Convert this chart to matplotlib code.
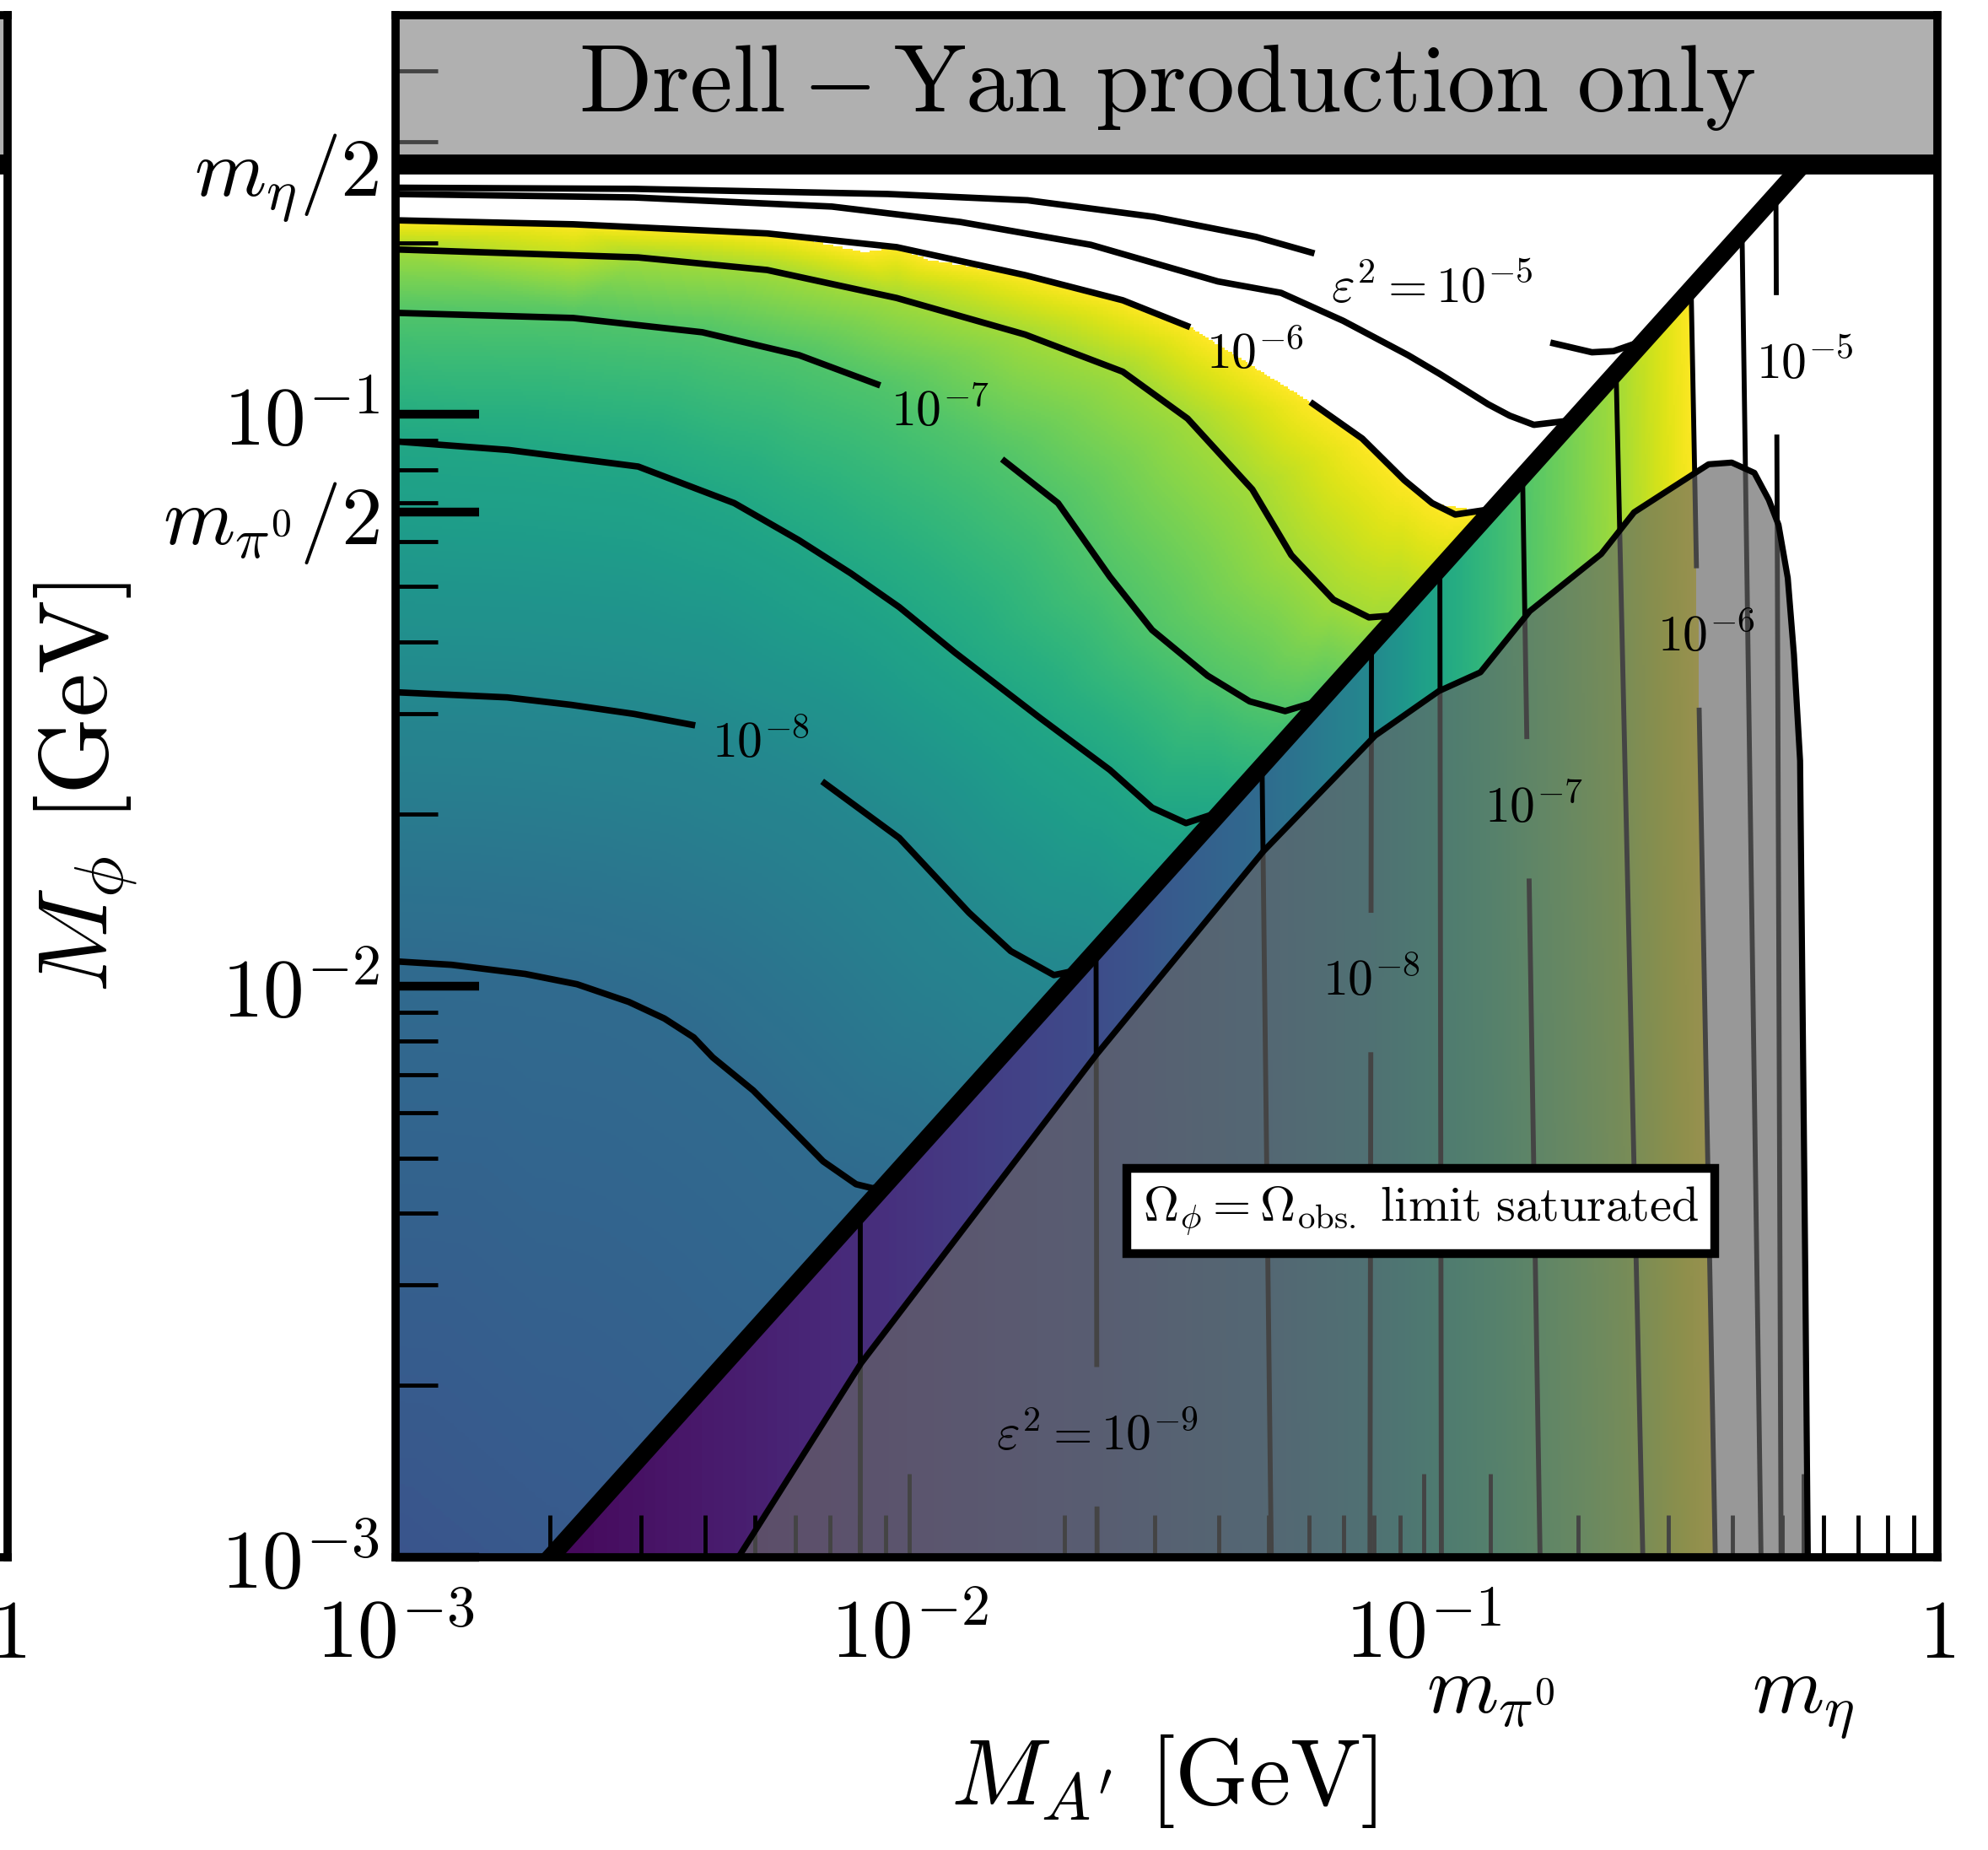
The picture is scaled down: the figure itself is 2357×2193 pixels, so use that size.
import numpy as np
import matplotlib
matplotlib.use('Agg')
import matplotlib.pyplot as plt
import matplotlib.tri as mtri
from matplotlib import colors, ticker
from matplotlib.transforms import blended_transform_factory

plt.rcParams['mathtext.fontset'] = 'cm'
plt.rcParams['axes.formatter.use_mathtext'] = True

# meson masses [GeV]
m_pi0 = 0.135
m_eta = 0.548
log2 = np.log10(2.0)

# eps^2 contours in the M_phi > M_A'/2 region, as (log10 M_A', log10 M_phi)
up85_A = [-3.000, -2.891, -2.748, -2.647, -2.546, -2.477, -2.420, -2.383, -2.304, -2.240, -2.168, -2.104, -2.072, -2.050]
up85_P = [-1.957, -1.963, -1.979, -1.997, -2.028, -2.057, -2.090, -2.125, -2.183, -2.241, -2.307, -2.347, -2.354, -2.350]

up80a_A = [-3.000, -2.783, -2.659, -2.536, -2.417]
up80a_P = [-1.486, -1.495, -1.508, -1.524, -1.544]
up80b_A = [-2.170, -2.020, -1.884, -1.803, -1.719, -1.671]
up80b_P = [-1.642, -1.741, -1.872, -1.939, -1.981, -1.972]

up75_A = [-3.000, -2.780, -2.528, -2.341, -2.215, -2.114, -2.020, -1.911, -1.746, -1.610, -1.528, -1.462, -1.394]
up75_P = [-1.047, -1.062, -1.091, -1.155, -1.220, -1.278, -1.337, -1.417, -1.531, -1.622, -1.688, -1.715, -1.695]

up70a_A = [-3.000, -2.654, -2.403, -2.215, -2.057]
up70a_P = [-0.822, -0.831, -0.856, -0.896, -0.949]
up70b_A = [-1.820, -1.711, -1.610, -1.528, -1.420, -1.338, -1.269, -1.199]
up70b_P = [-1.078, -1.155, -1.284, -1.377, -1.457, -1.502, -1.519, -1.500]

up65_A = [-3.000, -2.528, -2.277, -2.025, -1.775, -1.585, -1.459, -1.333, -1.257, -1.175, -1.106, -1.050]
up65_P = [-0.711, -0.725, -0.747, -0.796, -0.860, -0.925, -1.007, -1.131, -1.246, -1.324, -1.355, -1.351]

up60a_A = [-3.000, -2.654, -2.277, -2.025, -1.775, -1.585, -1.454]
up60a_P = [-0.660, -0.667, -0.683, -0.707, -0.756, -0.800, -0.847]
up60b_A = [-1.220, -1.119, -1.037, -0.983, -0.938, -0.894, -0.864]
up60b_P = [-0.978, -1.042, -1.115, -1.155, -1.175, -1.169, -1.165]

up55_A = [-3.000, -2.536, -2.151, -1.901, -1.647, -1.400, -1.277, -1.156, -1.030, -0.968, -0.874, -0.832, -0.785, -0.738, -0.709]
up55_P = [-0.614, -0.620, -0.636, -0.663, -0.703, -0.767, -0.787, -0.836, -0.896, -0.929, -0.982, -1.002, -1.018, -1.013, -1.010]

up50a_A = [-3.000, -2.536, -2.042, -1.770, -1.524, -1.326, -1.212]
up50a_P = [-0.603, -0.605, -0.614, -0.625, -0.654, -0.689, -0.718]
up50b_A = [-0.753, -0.672, -0.630, -0.569]
up50b_P = [-0.874, -0.891, -0.889, -0.870]

# corner values of log10 eps^2 used to close the shading above the diagonal
corner_A = [-3.000, -2.699, -3.000, -0.261]
corner_P = [-3.000, -3.000, -0.562, -0.562]
corner_v = [-8.87, -8.80, -4.50, -4.50]

# eps^2 contours in the M_A' > 2 M_phi region: log10 M_A' where each meets the diagonal and the bottom
low_levels = [-9.5, -9.0, -8.5, -8.0, -7.5, -7.0, -6.5, -6.0, -5.5, -5.0]
low_A_top = [-2.096, -1.637, -1.314, -1.101, -0.968, -0.807, -0.625, -0.479, -0.380, -0.314]
low_A_bot = [-2.096, -1.635, -1.296, -1.104, -0.965, -0.773, -0.573, -0.432, -0.343, -0.304]
low_edge_A = -2.70
low_edge_v = -10.1

# Omega_phi = Omega_obs boundary
sat_A = [-2.333, -2.094, -1.637, -1.311, -1.094, -0.970, -0.889, -0.793, -0.654, -0.590, -0.528,
         -0.445, -0.400, -0.356, -0.328, -0.309, -0.291, -0.279, -0.267, -0.262, -0.257, -0.252]
sat_P = [-3.000, -2.660, -2.121, -1.764, -1.562, -1.484, -1.451, -1.344, -1.244, -1.171, -1.135,
         -1.087, -1.084, -1.102, -1.149, -1.193, -1.286, -1.420, -1.606, -2.050, -2.494, -3.000]

# contour labels (text, log10 M_A', log10 M_phi)
up_labels = [(r'$\varepsilon^2 = 10^{-5}$', -0.983, -0.780),
             (r'$10^{-6}$', -1.328, -0.896),
             (r'$10^{-7}$', -1.941, -0.996),
             (r'$10^{-8}$', -2.289, -1.577)]
low_labels = [(-9.0, r'$\varepsilon^2 = 10^{-9}$', -1.635, -2.789),
              (-8.0, r'$10^{-8}$', -1.101, -1.994),
              (-7.0, r'$10^{-7}$', -0.785, -1.690),
              (-6.0, r'$10^{-6}$', -0.449, -1.391),
              (-5.0, r'$10^{-5}$', -0.257, -0.913)]

upper_segments = [(-8.5, up85_A, up85_P), (-8.0, up80a_A, up80a_P), (-8.0, up80b_A, up80b_P),
                  (-7.5, up75_A, up75_P), (-7.0, up70a_A, up70a_P), (-7.0, up70b_A, up70b_P),
                  (-6.5, up65_A, up65_P), (-6.0, up60a_A, up60a_P), (-6.0, up60b_A, up60b_P),
                  (-5.5, up55_A, up55_P), (-5.0, up50a_A, up50a_P), (-5.0, up50b_A, up50b_P)]

fig = plt.figure(figsize=(23.57, 21.93), dpi=100)
ax = fig.add_axes([0.199, 0.1582, 0.7755, 0.8336])
ax.set_xscale('log')
ax.set_yscale('log')
ax.set_xlim(1e-3, 1)
ax.set_ylim(1e-3, 0.5)

# ---- shading: log10 eps^2 built from the contours ----
gA = np.linspace(-3, 0, 801)
gP = np.linspace(-3, np.log10(0.5), 761)
cA = 0.5 * (gA[1:] + gA[:-1])
cP = 0.5 * (gP[1:] + gP[:-1])
CA, CP = np.meshgrid(cA, cP)

pA = np.concatenate([np.asarray(s[1]) for s in upper_segments] + [corner_A])
pP = np.concatenate([np.asarray(s[2]) for s in upper_segments] + [corner_P])
pv = np.concatenate([np.full(len(s[1]), s[0]) for s in upper_segments] + [corner_v])
tri = mtri.Triangulation(pA, pP)
upper = mtri.LinearTriInterpolator(tri, pv)(CA, CP).filled(np.nan)

A_top = np.array(low_A_top)
A_bot = np.array(low_A_bot)
P_top = A_top - log2
lower = np.empty_like(CA)
for i, p in enumerate(cP):
    pos = A_bot + (A_top - A_bot) * (p + 3) / (P_top + 3)
    lower[i] = np.interp(cA, np.r_[low_edge_A, pos], np.r_[low_edge_v, low_levels])

field = np.where(CP >= CA - log2, upper, lower)
field = np.ma.masked_where(~np.isfinite(field) | (field > -6.0), field)
norm = colors.PowerNorm(gamma=1.2, vmin=-10.25, vmax=-6.0)
ax.pcolormesh(10**gA, 10**gP, field, cmap='viridis', norm=norm, shading='flat',
              antialiased=False, linewidth=0, zorder=1)

# ---- contour lines above the diagonal ----
for lev, A, P in upper_segments:
    ax.plot(10**np.asarray(A), 10**np.asarray(P), color='k', lw=5.5, zorder=2,
            solid_capstyle='butt')

# ---- contour lines below the diagonal ----
gap = 0.122
lab_at = {lv: lp for lv, _, _, lp in low_labels}
for lev, at, ab, pt in zip(low_levels, A_top, A_bot, P_top):
    along = lambda p: ab + (at - ab) * (p + 3) / (pt + 3)
    pieces = [(pt, -3.05)]
    if lev in lab_at:
        c = lab_at[lev]
        pieces = [(pt, c + gap), (c - gap, -3.05)]
    for p0, p1 in pieces:
        ax.plot([10**along(p0), 10**along(p1)], [10**p0, 10**p1], color='k', lw=4.2,
                zorder=2, solid_capstyle='butt')

for txt, a, p in up_labels:
    ax.text(10**a, 10**p, txt, ha='center', va='center', fontsize=43, zorder=6)
for _, txt, a, p in low_labels:
    ax.text(10**a, 10**p, txt, ha='center', va='center', fontsize=43, zorder=6)

# ---- relic abundance saturated region ----
sA = 10**np.asarray(sat_A)
sP = 10**np.asarray(sat_P)
ax.fill(sA, sP, color='0.4', alpha=0.67, lw=0, zorder=3)
ax.plot(sA, sP, color='k', lw=5.2, zorder=4)
ax.text(0.665, 0.2245, r'$\Omega_\phi = \Omega_{\rm obs.}\ \mathrm{limit\ saturated}$',
        transform=ax.transAxes, ha='center', va='center', fontsize=42, zorder=8,
        bbox=dict(boxstyle='square,pad=0.33', fc='white', ec='black', lw=7.5))

# ---- kinematic lines and title band ----
MA = np.array([1e-3, m_eta])
ax.plot(MA, MA / 2, color='k', lw=15, zorder=5, solid_capstyle='butt')
ax.axhline(m_eta / 2, color='k', lw=17, zorder=5)
ax.axhspan(m_eta / 2, 0.5, color='0.466', alpha=0.58, lw=0, zorder=3)
ax.text(0.5, 10**-0.425, r'$\mathrm{Drell - Yan\ production\ only}$',
        transform=blended_transform_factory(ax.transAxes, ax.transData),
        ha='center', va='center', fontsize=82, zorder=6)


def style_axis(a):
    a.xaxis.set_minor_locator(ticker.LogLocator(base=10, subs=np.arange(2, 10), numticks=20))
    a.yaxis.set_minor_locator(ticker.LogLocator(base=10, subs=np.arange(2, 10), numticks=20))
    a.xaxis.set_minor_formatter(ticker.NullFormatter())
    a.yaxis.set_minor_formatter(ticker.NullFormatter())
    a.tick_params(which='both', direction='in', top=False, right=False, labelsize=70, colors='k')
    a.tick_params(which='minor', length=36, width=3.5)
    a.tick_params(axis='x', which='major', length=71, width=3.5, pad=33)
    a.tick_params(axis='y', which='major', length=71, width=7.5, pad=14)
    for s in a.spines.values():
        s.set_linewidth(7)
        s.set_zorder(10)


ax.set_xticks([1e-3, 1e-2, 1e-1, m_pi0, m_eta, 1])
ax.set_xticklabels([r'$10^{-3}$', r'$10^{-2}$', r'$10^{-1}$', '', '', r'$1$'])
ax.set_yticks([1e-3, 1e-2, m_pi0 / 2, 1e-1, m_eta / 2])
ax.set_yticklabels([r'$10^{-3}$', r'$10^{-2}$', r'$m_{\pi^0}/2$', r'$10^{-1}$', r'$m_\eta/2$'])
style_axis(ax)

bt = blended_transform_factory(ax.transData, ax.transAxes)
ax.text(m_pi0, -0.101, r'$m_{\pi^0}$', transform=bt, ha='center', va='baseline', fontsize=70)
ax.text(m_eta, -0.101, r'$m_\eta$', transform=bt, ha='center', va='baseline', fontsize=70)

fig.text(0.0433, 0.5745, r'$M_\phi\ [\mathrm{GeV}]$', rotation=90, ha='center', va='center', fontsize=84)
fig.text(0.5855, 0.037, r'$M_{A^\prime}\ [\mathrm{GeV}]$', ha='center', va='center', fontsize=80)

# neighbouring panel, only its right edge falls inside the figure
ax0 = fig.add_axes([0.0038 - 0.7755, 0.1582, 0.7755, 0.8336])
ax0.set_xscale('log')
ax0.set_yscale('log')
ax0.set_xlim(1e-3, 1)
ax0.set_ylim(1e-3, 0.5)
ax0.axhline(m_eta / 2, color='k', lw=17, zorder=5)
ax0.axhspan(m_eta / 2, 0.5, color='0.466', alpha=0.58, lw=0, zorder=3)
ax0.set_xticks([1])
ax0.set_xticklabels([r'$1$'])
ax0.set_yticks([])
style_axis(ax0)

fig.savefig('out.png', dpi=100)
